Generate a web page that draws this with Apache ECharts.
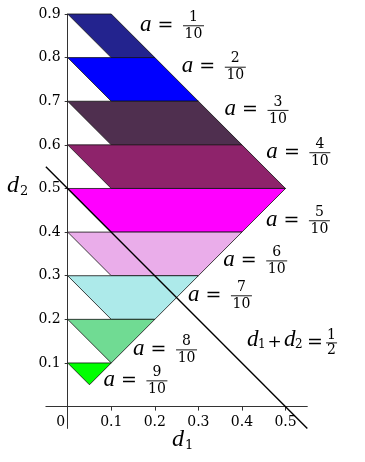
<!DOCTYPE html>
<html>
<head>
<meta charset="utf-8">
<script src="https://cdn.jsdelivr.net/npm/echarts@6.0.0/dist/echarts.min.js"></script>
<style>
  html, body { margin: 0; padding: 0; background: #fff; }
  #chart { width: 365px; height: 462px; }
</style>
</head>
<body>
<div id="chart"></div>
<script>
// Level sets a = k/10 in the (d1, d2) plane, one band per k.
const aNumerators = ['1', '2', '3', '4', '5', '6', '7', '8', '9'];
const aDenominator = '10';
// Band corners: top-left is always on the d2 axis (d1 = 0).
const bandTopY         = [0.9, 0.8, 0.7, 0.6, 0.5, 0.4, 0.3, 0.2, 0.1];
const bandBottomY      = [0.8, 0.7, 0.6, 0.5, 0.4, 0.3, 0.2, 0.1, 0.05];
const bandTopRightX    = [0.1, 0.2, 0.3, 0.4, 0.5, 0.4, 0.3, 0.2, 0.1];
const bandBottomRightX = [0.2, 0.3, 0.4, 0.5, 0.4, 0.3, 0.2, 0.1, 0.05];
const bandBottomLeftX  = [0.1, 0.1, 0.1, 0.1, 0.1, 0.1, 0.1, 0.1, 0.05];
const bandColors = ['#23238E', '#0000FF', '#4F2F4F', '#8E236B', '#FF00FF',
                    '#EAADEA', '#ADEAEA', '#70DB93', '#00FF00'];
// The line d1 + d2 = 1/2
const sumLineD1 = [-0.05, 0.55];
const sumLineD2 = [0.55, -0.05];
// Tick labels
const xTicks = [0.1, 0.2, 0.3, 0.4, 0.5];
const yTicks = [0.1, 0.2, 0.3, 0.4, 0.5, 0.6, 0.7, 0.8, 0.9];

const SERIF = '"DejaVu Serif", serif';
const MATH = '"Liberation Serif", serif';
const INK = '#000';

function txt(x, y, text, font, align) {
  return {
    type: 'text', x: x, y: y,
    style: { text: text, font: font, align: align || 'left', verticalAlign: 'middle', fill: INK }
  };
}

function fraction(cx, cy, num, den, size, barHalf, gap) {
  return [
    txt(cx, cy - gap, num, size + 'px ' + SERIF, 'center'),
    { type: 'line', shape: { x1: cx - barHalf, y1: cy, x2: cx + barHalf, y2: cy },
      style: { stroke: INK, lineWidth: 0.9 } },
    txt(cx, cy + gap, den, size + 'px ' + SERIF, 'center')
  ];
}

function renderBand(params, api) {
  const i = api.value(0);
  const pts = [
    [0, bandTopY[i]],
    [bandTopRightX[i], bandTopY[i]],
    [bandBottomRightX[i], bandBottomY[i]],
    [bandBottomLeftX[i], bandBottomY[i]]
  ].map(function (p) { return api.coord(p); });
  return {
    type: 'polygon',
    shape: { points: pts },
    style: { fill: bandColors[i], stroke: '#111', lineWidth: 0.8 }
  };
}

function renderALabel(params, api) {
  const p = api.coord([api.value(0), api.value(1)]);
  const i = api.value(2);
  const x = p[0], y = p[1];
  return {
    type: 'group',
    children: [
      txt(x, y - 1, 'a', 'italic 23px ' + MATH),
      txt(x + 25.5, y, '=', '19px ' + SERIF, 'center')
    ].concat(fraction(x + 53.5, y, aNumerators[i], aDenominator, 14, 10.5, 8.5))
  };
}

function renderSumLabel(params, api) {
  const p = api.coord([api.value(0), api.value(1)]);
  const x = p[0], y = p[1];
  return {
    type: 'group',
    children: [
      txt(x - 1, y - 3, 'd', 'italic 23px ' + MATH),
      txt(x + 10, y + 2, '1', '12px ' + SERIF),
      txt(x + 26.5, y, '+', '17px ' + SERIF, 'center'),
      txt(x + 36, y - 3, 'd', 'italic 23px ' + MATH),
      txt(x + 47, y + 2, '2', '12px ' + SERIF),
      txt(x + 67, y, '=', '19px ' + SERIF, 'center')
    ].concat(fraction(x + 83.5, y, '1', '2', 14, 5.5, 7.5))
  };
}

const chart = echarts.init(document.getElementById('chart'), null, { renderer: 'canvas' });

const axisColor = '#333';
const tickFont = { fontFamily: 'DejaVu Serif', fontSize: 14, color: INK };

chart.setOption({
  animation: false,
  backgroundColor: '#fff',
  grid: [
    // Plot area, including the short stubs of the axes below and left of the origin
    { left: 45.9, right: 57.7, top: 14, bottom: 33.6, outerBoundsMode: 'none' },
    // Positive quadrant; its edges carry the ticks and tick labels
    { left: 67.7, right: 57.7, top: 14, bottom: 55.4, outerBoundsMode: 'none' }
  ],
  xAxis: [
    {
      gridIndex: 0, type: 'value', min: -0.05, max: 0.55,
      axisLine: { show: true, onZero: true, lineStyle: { color: axisColor, width: 1 } },
      axisTick: { show: false }, axisLabel: { show: false }, splitLine: { show: false }
    },
    {
      gridIndex: 1, type: 'value', min: 0, max: 0.55,
      axisLine: { show: false },
      axisTick: { show: true, length: 4, customValues: xTicks, lineStyle: { color: axisColor } },
      axisLabel: Object.assign({
        customValues: [0].concat(xTicks),
        margin: 9,
        formatter: function (v) { return v === 0 ? '{z|0}' : v.toFixed(1); },
        rich: { z: Object.assign({ padding: [0, 14, 0, 0] }, tickFont) }
      }, tickFont),
      splitLine: { show: false }
    }
  ],
  yAxis: [
    {
      gridIndex: 0, type: 'value', min: -0.05, max: 0.9,
      axisLine: { show: true, onZero: true, lineStyle: { color: axisColor, width: 1 } },
      axisTick: { show: false }, axisLabel: { show: false }, splitLine: { show: false }
    },
    {
      gridIndex: 1, type: 'value', min: 0, max: 0.9,
      axisLine: { show: false },
      axisTick: { show: true, length: 3, customValues: yTicks, lineStyle: { color: axisColor } },
      axisLabel: Object.assign({
        customValues: yTicks,
        margin: 7,
        formatter: function (v) { return v.toFixed(1); }
      }, tickFont),
      splitLine: { show: false }
    }
  ],
  graphic: [
    txt(7, 186, 'd', 'italic 24px ' + MATH),
    txt(20, 192, '2', '13px ' + SERIF),
    txt(172, 440, 'd', 'italic 24px ' + MATH),
    txt(185, 446, '1', '13px ' + SERIF)
  ],
  series: [
    {
      type: 'custom',
      name: 'bands',
      xAxisIndex: 0, yAxisIndex: 0,
      renderItem: renderBand,
      encode: { x: 0, y: 0 },
      data: aNumerators.map(function (_, i) { return [i]; }),
      z: 2,
      silent: true
    },
    {
      type: 'line',
      name: 'd1 + d2 = 1/2',
      xAxisIndex: 0, yAxisIndex: 0,
      data: sumLineD1.map(function (d1, i) { return [d1, sumLineD2[i]]; }),
      showSymbol: false,
      lineStyle: { color: INK, width: 1.4 },
      z: 3,
      silent: true
    },
    {
      type: 'custom',
      name: 'a labels',
      xAxisIndex: 0, yAxisIndex: 0,
      renderItem: renderALabel,
      encode: { x: 0, y: 1 },
      data: [
        [0.166, 0.873, 0], [0.262, 0.778, 1], [0.360, 0.679, 2],
        [0.456, 0.582, 3], [0.455, 0.426, 4], [0.357, 0.334, 5],
        [0.276, 0.254, 6], [0.150, 0.130, 7], [0.082, 0.059, 8]
      ],
      z: 4,
      silent: true
    },
    {
      type: 'custom',
      name: 'sum label',
      xAxisIndex: 0, yAxisIndex: 0,
      renderItem: renderSumLabel,
      encode: { x: 0, y: 1 },
      data: [[0.414, 0.146]],
      z: 4,
      silent: true
    }
  ]
});
</script>
</body>
</html>
